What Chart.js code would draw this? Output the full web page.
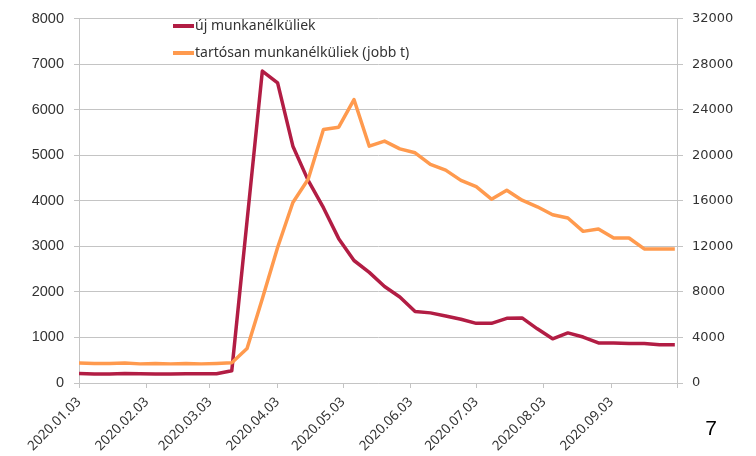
<!DOCTYPE html>
<html>
<head>
<meta charset="utf-8">
<script src="https://cdn.jsdelivr.net/npm/chart.js@4"></script>
<style>
  html, body { margin: 0; padding: 0; background: #fff; }
</style>
</head>
<body>
<canvas id="chart" width="756" height="456"></canvas>
<script>
// weekly observations, first one on 2020.01.03
const firstWeek = '2020-01-03';
const weekCount = 40;

// month ticks on the date axis (last one has no label)
const tickDates = ['2020-01-03', '2020-02-03', '2020-03-03', '2020-04-03', '2020-05-03',
  '2020-06-03', '2020-07-03', '2020-08-03', '2020-09-03', '2020-10-03'];
const tickLabels = ['2020.01.03', '2020.02.03', '2020.03.03', '2020.04.03', '2020.05.03',
  '2020.06.03', '2020.07.03', '2020.08.03', '2020.09.03', ''];

const seriesNames = ['új munkanélküliek', 'tartósan munkanélküliek (jobb t)'];

// left axis
const newUnemployed = [
  210, 195, 200, 210, 205, 195, 200, 205, 205, 205,
  270, 3560, 6850, 6590, 5200, 4450, 3850, 3170, 2690, 2430,
  2120, 1890, 1570, 1540, 1470, 1400, 1310, 1310, 1420, 1430,
  1190, 970, 1100, 1010, 880, 880, 870, 870, 840, 840
];

// right axis
const longTermUnemployed = [
  1760, 1720, 1720, 1760, 1680, 1720, 1680, 1720, 1680, 1720,
  1780, 3030, 7400, 11900, 15850, 17900, 22270, 22470, 24900, 20800,
  21250, 20570, 20220, 19200, 18700, 17800, 17250, 16150, 16930, 16060,
  15480, 14780, 14490, 13320, 13520, 12740, 12740, 11780, 11780, 11780
];

const leftTicks = [0, 1000, 2000, 3000, 4000, 5000, 6000, 7000, 8000];
const rightTicks = [0, 4000, 8000, 12000, 16000, 20000, 24000, 28000, 32000];

const DAY = 86400000;
const dayOffset = s => Math.round((Date.parse(s) - Date.parse(firstWeek)) / DAY);
const tickValues = tickDates.map(dayOffset);
const weekX = Array.from({ length: weekCount }, (_, i) => i * 7);

const toPoints = arr => arr.map((v, i) => ({ x: weekX[i], y: v }));

const RED = '#B21D44';
const ORANGE = '#FF9A4E';
const GRID = '#c4c4c4';
const TEXT = '#333333';

// legend stacked in the plot area + page number
const sideText = {
  id: 'sideText',
  afterDraw(chart) {
    const ctx = chart.ctx;
    ctx.save();
    ctx.font = '14px "Noto Sans"';
    ctx.textBaseline = 'middle';
    const rows = [{ y: 26, c: RED }, { y: 53, c: ORANGE }];
    rows.forEach((r, i) => {
      ctx.strokeStyle = r.c;
      ctx.lineWidth = 4;
      ctx.beginPath();
      ctx.moveTo(173, r.y);
      ctx.lineTo(194, r.y);
      ctx.stroke();
      ctx.fillStyle = TEXT;
      ctx.fillText(seriesNames[i], 195, r.y);
    });
    ctx.font = '21px "Liberation Sans"';
    ctx.fillStyle = '#000';
    ctx.textAlign = 'center';
    ctx.fillText('7', 711, 429);
    ctx.restore();
  }
};

new Chart(document.getElementById('chart'), {
  type: 'line',
  data: {
    datasets: [
      {
        label: seriesNames[0],
        data: toPoints(newUnemployed),
        borderColor: RED,
        yAxisID: 'y',
        order: 1
      },
      {
        label: seriesNames[1],
        data: toPoints(longTermUnemployed),
        borderColor: ORANGE,
        yAxisID: 'y2',
        order: 0
      }
    ]
  },
  options: {
    responsive: false,
    animation: false,
    layout: { padding: { top: 17, left: 0, right: 0, bottom: 0 } },
    elements: {
      line: { borderWidth: 3.5, tension: 0, borderJoinStyle: 'round', borderCapStyle: 'butt' },
      point: { radius: 0 }
    },
    plugins: {
      legend: { display: false },
      tooltip: { enabled: false }
    },
    scales: {
      x: {
        type: 'linear',
        min: 0,
        max: tickValues[tickValues.length - 1],
        afterBuildTicks: s => { s.ticks = tickValues.map(v => ({ value: v })); },
        afterFit: s => { s.height = 73; },
        grid: { drawOnChartArea: false, color: GRID, tickLength: 5 },
        border: { color: GRID },
        ticks: {
          autoSkip: false,
          maxRotation: 45,
          minRotation: 45,
          padding: 6,
          color: TEXT,
          font: { family: 'Noto Sans', size: 13.5 },
          callback: (v, i) => tickLabels[i]
        }
      },
      y: {
        position: 'left',
        min: 0,
        max: 8000,
        afterBuildTicks: s => { s.ticks = leftTicks.map(v => ({ value: v })); },
        afterFit: s => { s.width = 79; },
        grid: { color: GRID, tickLength: 5 },
        border: { color: GRID },
        ticks: {
          padding: 10,
          color: TEXT,
          font: { family: 'Liberation Sans', size: 14.5 },
          callback: v => String(v)
        }
      },
      y2: {
        position: 'right',
        min: 0,
        max: 32000,
        afterBuildTicks: s => { s.ticks = rightTicks.map(v => ({ value: v })); },
        afterFit: s => { s.width = 79; },
        grid: { drawOnChartArea: false, color: GRID, tickLength: 6 },
        border: { color: GRID },
        ticks: {
          padding: 9,
          color: TEXT,
          font: { family: 'DejaVu Sans', size: 13 },
          callback: v => String(v)
        }
      }
    }
  },
  plugins: [sideText]
});
</script>
</body>
</html>
